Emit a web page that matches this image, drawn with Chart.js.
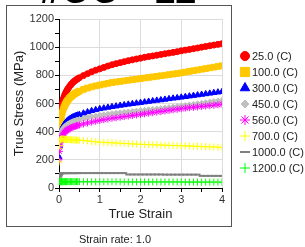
<!DOCTYPE html>
<html>
<head>
<meta charset="utf-8">
<script src="https://cdn.jsdelivr.net/npm/chart.js@4/dist/chart.umd.min.js"></script>
<style>
  html, body { margin: 0; padding: 0; background: #fff; }
  canvas { display: block; }
</style>
</head>
<body>
<canvas id="flowChart" width="305" height="247"></canvas>
<script>
// data
const strain = [0, 0.01, 0.02, 0.03, 0.04, 0.05, 0.06, 0.08, 0.1, 0.12, 0.14, 0.16, 0.18, 0.2, 0.22, 0.25,
  0.28, 0.31, 0.34, 0.37, 0.4, 0.43, 0.46, 0.5,
  0.6, 0.7, 0.8, 0.9, 1.0, 1.1, 1.2, 1.3, 1.4, 1.5, 1.6, 1.7, 1.8, 1.9, 2.0, 2.1, 2.2, 2.3, 2.4, 2.5,
  2.6, 2.7, 2.8, 2.9, 3.0, 3.1, 3.2, 3.3, 3.4, 3.5, 3.6, 3.7, 3.8, 3.9, 4.0];

const stress25 = [365, 430, 480, 515, 540, 560, 578, 605, 628, 645, 660, 673, 685, 696, 705, 718,
  730, 740, 749, 757, 764, 770, 776, 783,
  798, 812, 825, 836, 846, 856, 866, 875, 883, 890, 897, 904, 910, 916, 922, 928, 933, 938, 943, 948,
  953, 958, 963, 968, 974, 979, 984, 989, 994, 1000, 1005, 1010, 1015, 1020, 1025];
const stress100 = [300, 360, 410, 445, 470, 490, 507, 535, 556, 572, 586, 598, 608, 617, 625, 636,
  645, 653, 660, 666, 672, 677, 682, 688,
  700, 710, 718, 725, 731, 737, 743, 749, 753, 757, 761, 765, 769, 773, 777, 781, 785, 789, 793, 797,
  801, 805, 809, 813, 818, 823, 828, 833, 838, 843, 848, 853, 858, 863, 868];
const stress300 = [220, 300, 340, 365, 383, 397, 408, 424, 437, 447, 456, 464, 470, 476, 481, 488,
  494, 499, 503, 507, 511, 514, 517, 521,
  531, 540, 548, 555, 562, 567, 572, 577, 581, 586, 590, 594, 598, 602, 606, 610, 614, 618, 622, 625,
  629, 633, 637, 640, 644, 648, 652, 656, 660, 664, 668, 672, 676, 680, 684];
const stress450 = [300, 335, 358, 372, 383, 392, 399, 410, 419, 427, 434, 440, 445, 449, 453, 458,
  463, 467, 471, 474, 477, 480, 483, 487,
  494, 500, 506, 511, 516, 520, 524, 528, 531, 534, 537, 540, 543, 546, 549, 552, 555, 558, 561, 564,
  568, 571, 575, 578, 582, 586, 590, 594, 598, 602, 606, 610, 614, 618, 622];
const stress560 = [200, 260, 298, 322, 338, 350, 359, 372, 382, 390, 397, 403, 408, 412, 416, 421,
  425, 429, 433, 436, 439, 442, 444, 448,
  455, 462, 468, 474, 480, 485, 490, 495, 499, 503, 507, 511, 515, 519, 523, 527, 531, 535, 539, 543,
  547, 551, 555, 559, 563, 567, 570, 573, 576, 579, 582, 585, 588, 591, 595];
const stress700 = [185, 300, 335, 342, 345, 347, 348, 348, 348, 347, 346, 345, 345, 344, 344, 343,
  343, 342, 342, 341, 341, 340, 340, 339,
  337, 334, 331, 328, 325, 324, 322, 321, 319, 318, 316, 315, 313, 312, 310, 309, 308, 307, 306, 305,
  304, 303, 302, 301, 300, 299, 298, 297, 296, 294, 293, 292, 291, 290, 288];
const stress1000 = [60, 80, 92, 99, 103, 105, 106, 106, 106, 106, 106, 106, 106, 106, 106, 106,
  106, 106, 106, 106, 106, 106, 106, 106,
  106, 106, 106, 106, 106, 106, 106, 106, 106, 106, 106, 96, 96, 96, 96, 96, 96, 96, 96, 96,
  95, 95, 95, 95, 95, 95, 95, 95, 95, 86, 86, 86, 86, 86, 86];
const stress1200 = [50, 46, 45, 45, 45, 45, 45, 45, 45, 45, 45, 45, 45, 45, 45, 45,
  45, 45, 45, 45, 45, 45, 45, 45,
  44, 44, 44, 44, 44, 44, 44, 44, 44, 44, 43, 43, 43, 43, 43, 43, 43, 43, 43, 43,
  43, 43, 43, 43, 43, 42, 42, 42, 42, 42, 42, 42, 42, 42, 42];

const seriesNames = ['25.0 (C)', '100.0 (C)', '300.0 (C)', '450.0 (C)', '560.0 (C)', '700.0 (C)', '1000.0 (C)', '1200.0 (C)'];
const chartTitle = '#OO - 12';
const footerText = 'Strain rate: 1.0';

// looks
const colors = ['#ff0000', '#ffc800', '#0000ff', '#c0c0c0', '#ff00ff', '#ffff00', '#808080', '#00ff00'];
const styles = ['circle', 'rect', 'triangle', 'rectRot', 'star', 'cross', 'line', 'cross'];
const radii = [3, 4, 3.5, 3, 3.5, 3.5, 3, 3.5];
const legendRadii = [4.5, 6.5, 5.5, 4, 5, 5, 5, 5];
const font = '"Liberation Sans", Arial, sans-serif';

const allStress = [stress25, stress100, stress300, stress450, stress560, stress700, stress1000, stress1200];

const datasets = allStress.map((ys, i) => ({
  label: seriesNames[i],
  data: ys.map((y, k) => ({ x: strain[k], y: y })),
  showLine: false,
  pointStyle: styles[i],
  pointRadius: radii[i],
  pointHoverRadius: radii[i],
  backgroundColor: colors[i],
  borderColor: colors[i],
  borderWidth: (styles[i] === 'line') ? 2 : 1,
  order: allStress.length - i
}));

// frame, clipped title, footer and the legend on the right
const extras = {
  id: 'extras',
  beforeDraw(chart) {
    const ctx = chart.ctx;
    ctx.save();
    ctx.fillStyle = '#fff';
    ctx.fillRect(0, 0, chart.width, chart.height);
    ctx.restore();
  },
  afterDraw(chart) {
    const ctx = chart.ctx;
    ctx.save();
    ctx.strokeStyle = '#555';
    ctx.lineWidth = 1;
    ctx.strokeRect(6.5, 5.5, 225, 221);

    ctx.fillStyle = '#000';
    ctx.font = 'bold 38px ' + font;
    ctx.textAlign = 'left';
    ctx.textBaseline = 'alphabetic';
    ctx.fillText(chartTitle, 40, 3);

    ctx.fillStyle = '#222';
    ctx.font = '11px ' + font;
    ctx.textAlign = 'center';
    ctx.textBaseline = 'middle';
    ctx.fillText(footerText, 115, 240);

    chart.data.datasets.forEach((ds, i) => {
      const y = 56 + i * 16;
      ctx.fillStyle = ds.backgroundColor;
      ctx.strokeStyle = ds.borderColor;
      ctx.lineWidth = ds.borderWidth;
      Chart.helpers.drawPoint(ctx, { pointStyle: ds.pointStyle, radius: legendRadii[i], rotation: 0, borderWidth: ds.borderWidth }, 245, y);
      ctx.fillStyle = '#222';
      ctx.textAlign = 'left';
      ctx.fillText(ds.label, 252, y + 0.5);
    });
    ctx.restore();
  }
};

new Chart(document.getElementById('flowChart'), {
  type: 'scatter',
  data: { datasets: datasets },
  plugins: [extras],
  options: {
    responsive: false,
    devicePixelRatio: 1,
    animation: false,
    layout: { padding: { top: 19, left: 0, right: 83, bottom: 0 } },
    plugins: { legend: { display: false }, tooltip: { enabled: false } },
    scales: {
      x: {
        type: 'linear',
        min: 0,
        max: 4,
        afterFit(scale) { scale.height = 59; },
        border: { color: '#000' },
        grid: {
          color: c => (c.tick && Number.isInteger(c.tick.value)) ? '#dcdcdc' : 'rgba(0,0,0,0)',
          tickColor: '#000',
          tickLength: 4
        },
        ticks: {
          stepSize: 0.5,
          autoSkip: false,
          maxRotation: 0,
          padding: 1,
          color: '#333',
          font: { family: font, size: 11 },
          callback: v => Number.isInteger(v) ? String(v) : ''
        },
        title: {
          display: true,
          text: 'True Strain',
          color: '#222',
          font: { family: font, size: 13 },
          padding: { top: 0, bottom: 25 }
        }
      },
      y: {
        min: 0,
        max: 1200,
        afterFit(scale) { scale.width = 59; },
        border: { color: '#000' },
        grid: {
          color: c => (c.tick && c.tick.value % 200 === 0) ? '#dcdcdc' : 'rgba(0,0,0,0)',
          tickColor: '#000',
          tickLength: 4
        },
        ticks: {
          stepSize: 100,
          autoSkip: false,
          padding: 1,
          color: '#333',
          font: { family: font, size: 11 },
          callback: v => (v % 200 === 0) ? String(v) : ''
        },
        title: {
          display: true,
          text: 'True Stress (MPa)',
          color: '#222',
          font: { family: font, size: 13 },
          padding: { top: 12, bottom: 0 }
        }
      }
    }
  }
});
</script>
</body>
</html>
